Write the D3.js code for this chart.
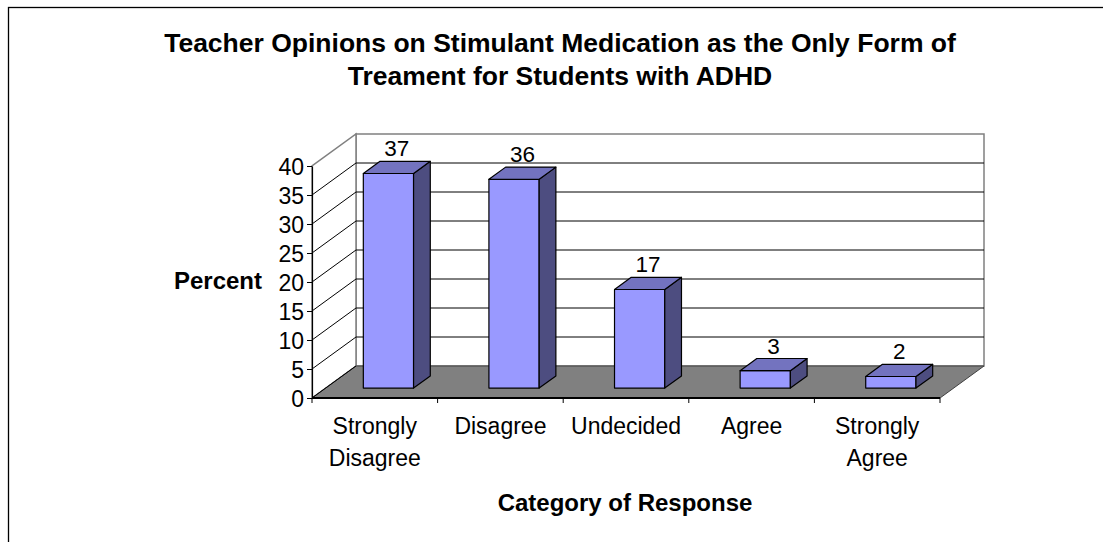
<!DOCTYPE html>
<html>
<head>
<meta charset="utf-8">
<script src="https://cdn.jsdelivr.net/npm/d3@7"></script>
<style>
  html, body { margin: 0; padding: 0; background: #fff; }
  svg { display: block; font-family: "Liberation Sans", Arial, sans-serif; }
</style>
</head>
<body>
<svg id="chart" width="1103" height="542"></svg>
<script>
// Survey responses (percent of teachers)
const categories = ["Strongly Disagree", "Disagree", "Undecided", "Agree", "Strongly Agree"];
const categoryLines = [["Strongly", "Disagree"], ["Disagree"], ["Undecided"], ["Agree"], ["Strongly", "Agree"]];
const percents = [37, 36, 17, 3, 2];
const yTicks = [0, 5, 10, 15, 20, 25, 30, 35, 40];
const titleLines = ["Teacher Opinions on Stimulant Medication as the Only Form of", "Treament for Students with ADHD"];

const svg = d3.select("#chart");

// Front plane of the 3-D plot box
const x = d3.scaleBand().domain(categories).range([312, 940]).padding(0);
const y = d3.scaleLinear().domain([0, 40]).range([398, 166]);

// Depth offset of the back wall
const DX = 44, DY = 32;
const P = (px, v, d) => [px + d * DX, y(v) - d * DY];
const poly = pts => pts.map(p => p.join(",")).join(" ");

const x0 = x.range()[0], x1 = x.range()[1];
const vMax = y.domain()[1];

// Outer chart border
svg.append("rect").attr("x", 8.5).attr("y", 7.5).attr("width", 1100).attr("height", 540)
  .attr("fill", "#fff").attr("stroke", "#000").attr("stroke-width", 1.3);

// Back wall
svg.append("polygon")
  .attr("points", poly([P(x0, 0, 1), P(x1, 0, 1), P(x1, vMax, 1), P(x0, vMax, 1)]))
  .attr("fill", "#fff").attr("stroke", "#808080").attr("stroke-width", 1.5);

// Left side wall
svg.append("polygon")
  .attr("points", poly([P(x0, 0, 0), P(x0, 0, 1), P(x0, vMax, 1), P(x0, vMax, 0)]))
  .attr("fill", "#fff").attr("stroke", "#808080").attr("stroke-width", 1.5);

// Gridlines on back and side walls
const inner = yTicks.filter(v => v > 0 && v < vMax);
svg.append("g").selectAll("line.back").data(inner).join("line")
  .attr("x1", v => P(x0, v, 1)[0]).attr("y1", v => P(x0, v, 1)[1])
  .attr("x2", v => P(x1, v, 1)[0]).attr("y2", v => P(x1, v, 1)[1])
  .attr("stroke", "#000").attr("stroke-width", 1);
svg.append("g").selectAll("line.side").data(inner).join("line")
  .attr("x1", v => P(x0, v, 0)[0]).attr("y1", v => P(x0, v, 0)[1])
  .attr("x2", v => P(x0, v, 1)[0]).attr("y2", v => P(x0, v, 1)[1])
  .attr("stroke", "#000").attr("stroke-width", 1);

// Floor
svg.append("polygon")
  .attr("points", poly([P(x0, 0, 0), P(x0, 0, 1), P(x1, 0, 1), P(x1, 0, 0)]))
  .attr("fill", "#808080").attr("stroke", "#404040").attr("stroke-width", 1);
svg.append("line")
  .attr("x1", P(x0, 0, 0)[0]).attr("y1", P(x0, 0, 0)[1])
  .attr("x2", P(x0, 0, 1)[0]).attr("y2", P(x0, 0, 1)[1])
  .attr("stroke", "#000").attr("stroke-width", 1);
// Category axis line
svg.append("line")
  .attr("x1", x0).attr("y1", y(0)).attr("x2", x1).attr("y2", y(0))
  .attr("stroke", "#000").attr("stroke-width", 2);

// Category boundary ticks
const bounds = categories.map(c => x(c)).concat([x1]);
svg.append("g").selectAll("line").data(bounds).join("line")
  .attr("x1", d => d).attr("x2", d => d)
  .attr("y1", y(0)).attr("y2", y(0) + 5)
  .attr("stroke", "#000").attr("stroke-width", 1);

// Value axis
const yAxis = svg.append("g").attr("transform", `translate(${x0},0)`)
  .call(d3.axisLeft(y).tickValues(yTicks).tickSize(5).tickPadding(3).tickSizeOuter(0));
yAxis.select(".domain").attr("stroke", "#000").attr("stroke-width", 1.2);
yAxis.selectAll(".tick line").attr("stroke", "#000");
yAxis.selectAll(".tick text").attr("font-size", 23).attr("fill", "#000")
  .attr("font-family", "'Liberation Sans', Arial, sans-serif")
  .attr("dy", null).attr("y", 8);

// 3-D columns
const bw = x.bandwidth() / 2.5;
const d0 = 0.31, d1 = 0.69;
const bars = svg.append("g").selectAll("g").data(categories.map((c, i) => ({ c, v: percents[i] }))).join("g");
bars.each(function (d) {
  const g = d3.select(this);
  const bx = x(d.c) + (x.bandwidth() - bw) / 2;
  g.append("polygon")
    .attr("points", poly([P(bx, 0, d0), P(bx + bw, 0, d0), P(bx + bw, d.v, d0), P(bx, d.v, d0)]))
    .attr("fill", "#9999ff").attr("stroke", "#000").attr("stroke-width", 1.2).attr("stroke-linejoin", "round");
  g.append("polygon")
    .attr("points", poly([P(bx + bw, 0, d0), P(bx + bw, 0, d1), P(bx + bw, d.v, d1), P(bx + bw, d.v, d0)]))
    .attr("fill", "#4d4d80").attr("stroke", "#000").attr("stroke-width", 1.2).attr("stroke-linejoin", "round");
  g.append("polygon")
    .attr("points", poly([P(bx, d.v, d0), P(bx + bw, d.v, d0), P(bx + bw, d.v, d1), P(bx, d.v, d1)]))
    .attr("fill", "#7373bf").attr("stroke", "#000").attr("stroke-width", 1.2).attr("stroke-linejoin", "round");
  const lp = P(bx + bw / 2, d.v, (d0 + d1) / 2);
  g.append("text").attr("x", lp[0]).attr("y", lp[1] - 11)
    .attr("text-anchor", "middle").attr("font-size", 22.5).attr("fill", "#000")
    .text(d.v);
});

// Category labels
const catG = svg.append("g").selectAll("text").data(categories).join("text")
  .attr("text-anchor", "middle").attr("font-size", 23).attr("fill", "#000");
catG.each(function (c, i) {
  const t = d3.select(this);
  categoryLines[i].forEach((ln, k) => {
    t.append("tspan").attr("x", x(c) + x.bandwidth() / 2).attr("y", 434 + k * 32).text(ln);
  });
});

// Titles
const title = svg.append("text").attr("text-anchor", "middle").attr("font-size", 26.5)
  .attr("font-weight", "bold").attr("fill", "#000");
titleLines.forEach((ln, k) => title.append("tspan").attr("x", 560).attr("y", 52 + k * 33).text(ln));

svg.append("text").attr("x", 262).attr("y", 289).attr("text-anchor", "end")
  .attr("font-size", 24).attr("font-weight", "bold").text("Percent");

svg.append("text").attr("x", 625).attr("y", 511).attr("text-anchor", "middle")
  .attr("font-size", 24).attr("font-weight", "bold").text("Category of Response");
</script>
</body>
</html>
